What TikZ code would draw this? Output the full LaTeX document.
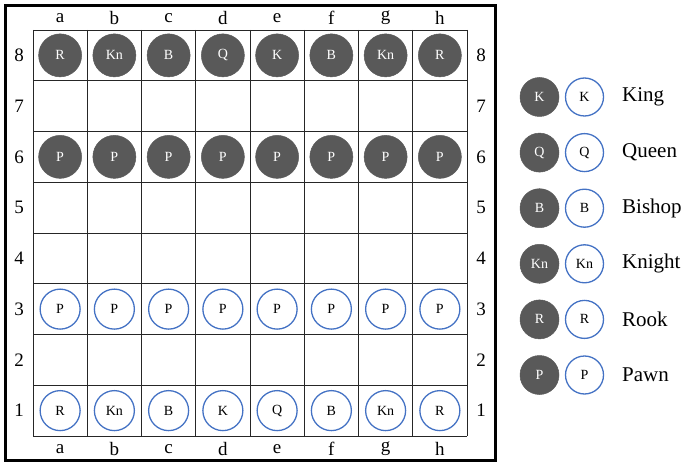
\documentclass[tikz,border=0pt]{standalone}
\usepackage{fontspec}
\setmainfont{Liberation Serif}
\definecolor{piecedark}{HTML}{595959}
\definecolor{pieceblue}{HTML}{4472C4}
\begin{document}
\begin{tikzpicture}[x=1pt,y=-1pt,
  darkpiece/.style={circle,fill=piecedark,draw=piecedark,line width=0.5pt,minimum size=43pt,inner sep=0pt,text=white,font=\fontsize{14}{14}\selectfont},
  lightpiece/.style={circle,fill=white,draw=pieceblue,line width=1.3pt,minimum size=40pt,inner sep=0pt,text=black,font=\fontsize{14}{14}\selectfont},
  legdark/.style={darkpiece,minimum size=39pt},
  leglight/.style={lightpiece,minimum size=38pt},
  coordlabel/.style={font=\fontsize{19}{19}\selectfont,inner sep=0pt},
  legtext/.style={font=\fontsize{21}{21}\selectfont,anchor=west,inner sep=0pt},
  gridline/.style={draw=black!85,line width=0.9pt}]
\useasboundingbox (0,0) rectangle (685,465);
% outer frame
\draw[line width=3pt] (5.5,5.5) rectangle (495.5,460.5);
% grid
\def\gx{33}\def\gy{30}\def\cw{54.25}\def\rh{50.75}
\foreach \i in {0,...,8}{
  \draw[gridline] ({\gx+\i*\cw},\gy) -- ({\gx+\i*\cw},{\gy+8*\rh});
  \draw[gridline] (\gx,{\gy+\i*\rh}) -- ({\gx+8*\cw},{\gy+\i*\rh});
}
% coordinate labels
\foreach \l [count=\c from 0] in {a,b,c,d,e,f,g,h}{
  \node[coordlabel] (top\l) at ({\gx+(\c+0.5)*\cw},18) {\l};
  \node[coordlabel] (bot\l) at ({\gx+(\c+0.5)*\cw},449) {\l};
}
\foreach \r in {1,...,8}{
  \node[coordlabel] (left\r) at (19,{\gy+(8-\r+0.5)*\rh}) {\r};
  \node[coordlabel] (right\r) at (481,{\gy+(8-\r+0.5)*\rh}) {\r};
}
% pieces
\foreach \p [count=\c from 0] in {R,Kn,B,Q,K,B,Kn,R}{
  \node[darkpiece] (d8\c) at ({\gx+(\c+0.5)*\cw},{\gy+0.5*\rh}) {\p};
  \node[darkpiece] (d6\c) at ({\gx+(\c+0.5)*\cw},{\gy+2.5*\rh}) {P};
  \node[lightpiece] (l3\c) at ({\gx+(\c+0.5)*\cw},{\gy+5.5*\rh}) {P};
}
\foreach \p [count=\c from 0] in {R,Kn,B,K,Q,B,Kn,R}{
  \node[lightpiece] (l1\c) at ({\gx+(\c+0.5)*\cw},{\gy+7.5*\rh}) {\p};
}
% legend
\foreach \p/\n [count=\k from 0] in {K/King,Q/Queen,B/Bishop,Kn/Knight,R/Rook,P/Pawn}{
  \node[legdark] (ld\k) at (539.5,{97+\k*55.6}) {\p};
  \node[leglight] (ll\k) at (584.5,{97+\k*55.6}) {\p};
  \node[legtext] (lt\k) at (622,{97+\k*55.6}) {\n};
}
\end{tikzpicture}
\end{document}
